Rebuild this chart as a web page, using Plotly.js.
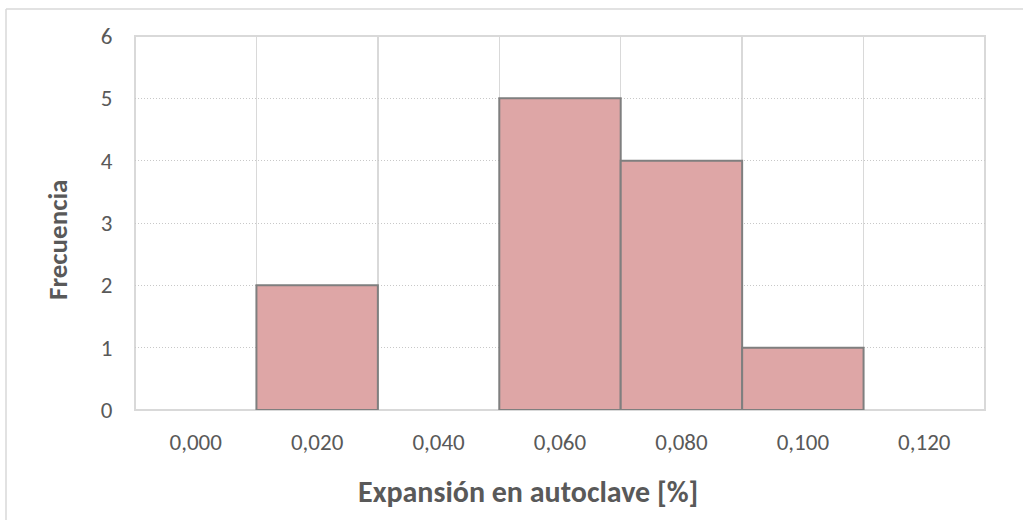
<!DOCTYPE html>
<html>
<head>
<meta charset="utf-8">
<script src="https://cdn.plot.ly/plotly-3.0.1.min.js"></script>
<style>html,body{margin:0;padding:0;background:#fff;}#chart{width:1023px;height:520px;}</style>
</head>
<body>
<div id="chart"></div>
<script>
const categories = ["0,000", "0,020", "0,040", "0,060", "0,080", "0,100", "0,120"];
const frequencies = [0, 2, 0, 5, 4, 1, 0];
const yTicks = [0, 1, 2, 3, 4, 5, 6];
const xTitle = "Expansión en autoclave [%]";
const yTitle = "Frecuencia";

const idx = categories.map((c, i) => i);
const bounds = [];
for (let i = 0; i <= categories.length; i++) bounds.push(i - 0.5);

const trace = {
  type: 'bar',
  x: idx,
  y: frequencies,
  width: 1,
  marker: { color: '#dea6a6', line: { color: '#7f7f7f', width: frequencies.map(v => v > 0 ? 2 : 0) } },
  hoverinfo: 'skip'
};

const font = "Calibri, Carlito, 'Open Sans', 'Liberation Sans', sans-serif";
const W = 1023, H = 520;
const L = 135, R = 38, T = 36, B = 110;
const pw = W - L - R, ph = H - T - B;
const px = x => (x - L) / pw;          // pixel -> paper x
const py = y => (H - B - y) / ph;      // pixel -> paper y

const layout = {
  width: W, height: H,
  margin: { l: L, r: R, t: T, b: B },
  paper_bgcolor: '#fff', plot_bgcolor: '#fff',
  showlegend: false,
  font: { family: font, color: '#595959', size: 23 },
  bargap: 0,
  xaxis: {
    range: [-0.5, categories.length - 0.5],
    tickvals: idx, ticktext: categories,
    showgrid: false, zeroline: false,
    ticks: 'outside', ticklen: 11, tickcolor: 'rgba(0,0,0,0)',
    showline: false,
    tickfont: { size: 23, color: '#595959' },
    minor: { tickvals: bounds, showgrid: true, gridcolor: '#d9d9d9', gridwidth: 1.5, ticks: '' },
    automargin: false, fixedrange: true
  },
  yaxis: {
    range: [0, 6], tickvals: yTicks,
    showgrid: true, gridcolor: '#c8c8c8', griddash: '1px,2px', gridwidth: 1,
    zeroline: false, showline: false,
    ticks: 'outside', ticklen: 17, tickcolor: 'rgba(0,0,0,0)',
    tickfont: { size: 23, color: '#595959' },
    automargin: false, fixedrange: true
  },
  annotations: [
    { text: '<b>' + xTitle + '</b>', xref: 'paper', yref: 'paper', x: px(528), y: py(491),
      xanchor: 'center', yanchor: 'middle', showarrow: false,
      font: { size: 30, color: '#595959', family: font } },
    { text: '<b>' + yTitle + '</b>', xref: 'paper', yref: 'paper', x: px(58), y: py(240),
      xanchor: 'center', yanchor: 'middle', showarrow: false, textangle: -90,
      font: { size: 27, color: '#595959', family: font } }
  ],
  shapes: [
    { type: 'rect', xref: 'paper', yref: 'paper', x0: 0, x1: 1, y0: 0, y1: 1,
      line: { color: '#d9d9d9', width: 2 }, fillcolor: 'rgba(0,0,0,0)', layer: 'below' },
    { type: 'line', xref: 'paper', yref: 'paper', x0: px(6), x1: px(1030), y0: py(9), y1: py(9),
      line: { color: '#d9d9d9', width: 1.5 } },
    { type: 'line', xref: 'paper', yref: 'paper', x0: px(6), x1: px(6), y0: py(9), y1: py(530),
      line: { color: '#d9d9d9', width: 1.5 } }
  ]
};

Plotly.newPlot('chart', [trace], layout, { displayModeBar: false, staticPlot: true });
</script>
</body>
</html>
